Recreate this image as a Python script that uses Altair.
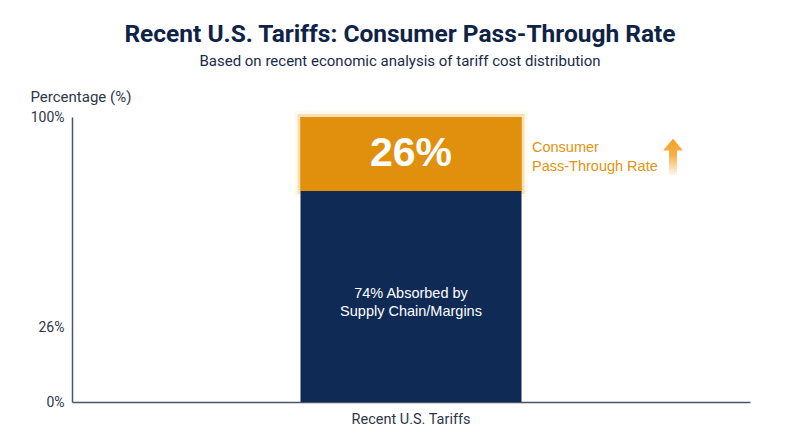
import altair as alt
import pandas as pd

categories = ["Recent U.S. Tariffs"]
segments = ["Absorbed by Supply Chain/Margins", "Consumer Pass-Through"]
values = [74, 26]
seg_colors = ["#102A56", "#E0900C"]
tick_values = [0, 26, 100]

starts = [0]
for v in values[:-1]:
    starts.append(starts[-1] + v)
df = pd.DataFrame({
    "cat": categories * len(values),
    "segment": segments,
    "start": starts,
    "end": [s + v for s, v in zip(starts, values)],
    "value": values,
})
df["mid"] = (df["start"] + df["end"]) / 2

FONT = "Roboto"
SANS = "Liberation Sans"
xenc = alt.X("cat:N", title=None,
             axis=alt.Axis(labelAngle=0, ticks=False, grid=False, domainColor="#4A5568", domainWidth=1.5,
                           labelFontSize=14.5, labelColor="#2D3748", labelFont=FONT, labelPadding=10))
yscale = alt.Scale(domain=[0, 100])

base = alt.Chart(df)

glow_outer = base.transform_filter(alt.datum.value == values[1]).mark_bar(
    size=221, color="#F5A623", stroke="#F5A623", strokeWidth=12, strokeOpacity=0.12, opacity=0.5
).encode(x=xenc, y=alt.Y("start:Q", scale=yscale), y2="end:Q")

glow = base.transform_filter(alt.datum.value == values[1]).mark_bar(
    size=221, color="#E0900C", stroke="#F5A623", strokeWidth=6, strokeOpacity=0.3
).encode(x=xenc, y=alt.Y("start:Q", scale=yscale), y2="end:Q")

bars = base.mark_bar(size=221).encode(
    x=xenc,
    y=alt.Y("start:Q", scale=yscale, title="Percentage (%)",
            axis=alt.Axis(values=tick_values, labelExpr="datum.value + '%'", ticks=False, grid=False,
                          domainColor="#4A5568", domainWidth=1.5, labelFontSize=14,
                          labelColor="#2D3748", labelFont=FONT, labelPadding=8,
                          titleAngle=0, titleAlign="left", titleBaseline="bottom",
                          titleX=-42, titleY=-13, titleFontSize=15, titleFontWeight="normal",
                          titleColor="#2D3748", titleFont=FONT)),
    y2="end:Q",
    color=alt.Color("segment:N", scale=alt.Scale(domain=segments, range=seg_colors), legend=None),
)

big = base.transform_filter(alt.datum.value == values[1]).transform_calculate(
    label="datum.value + '%'"
).mark_text(fontSize=41, fontWeight="bold", color="white", font=SANS).encode(
    x=xenc, y=alt.Y("mid:Q", scale=yscale), text="label:N")

inner = base.transform_filter(alt.datum.value == values[0]).transform_calculate(
    label="[datum.value + '% Absorbed by', 'Supply Chain/Margins']"
).mark_text(fontSize=14.5, color="white", font=SANS, lineHeight=18).encode(
    x=xenc, y=alt.datum(38), text="label:N")

side = base.transform_filter(alt.datum.value == values[1]).transform_calculate(
    label="['Consumer', 'Pass-Through Rate']"
).mark_text(fontSize=14.5, color="#E0940F", font=SANS, align="left", dx=121, lineHeight=19).encode(
    x=xenc, y=alt.datum(89), text="label:N")

arrow_path = "M0,-1 L0.55,-0.35 L0.22,-0.35 L0.22,1 L-0.22,1 L-0.22,-0.35 L-0.55,-0.35 Z"
arrow = base.transform_filter(alt.datum.value == values[1]).mark_point(
    shape=arrow_path, size=1300, filled=True, strokeWidth=0, opacity=1,
    fill=alt.Gradient(gradient="linear", x1=0, y1=0, x2=0, y2=1,
                      stops=[alt.GradientStop(offset=0, color="#F5A020"),
                             alt.GradientStop(offset=0.45, color="#F7B04A"),
                             alt.GradientStop(offset=1, color="#FFF6EA")])
).encode(x=alt.value(601), y=alt.datum(86))

chart = alt.layer(glow_outer, glow, bars, big, inner, side, arrow).properties(
    width=678, height=285,
    autosize=alt.AutoSizeParams(type="none"),
    padding={"left": 64, "top": 109, "right": 34, "bottom": 29},
    title=alt.TitleParams(
        text="Recent U.S. Tariffs: Consumer Pass-Through Rate",
        subtitle="Based on recent economic analysis of tariff cost distribution",
        font=FONT, fontSize=24.5, fontWeight="bold", color="#0F2347",
        subtitleFont=FONT, subtitleFontSize=15, subtitleColor="#1A2B4A", subtitlePadding=7,
        anchor="middle", dx=-11, offset=19),
).configure_view(stroke=None, strokeWidth=0)

chart.save("out.html", embed_options={"renderer": "svg", "actions": False})
